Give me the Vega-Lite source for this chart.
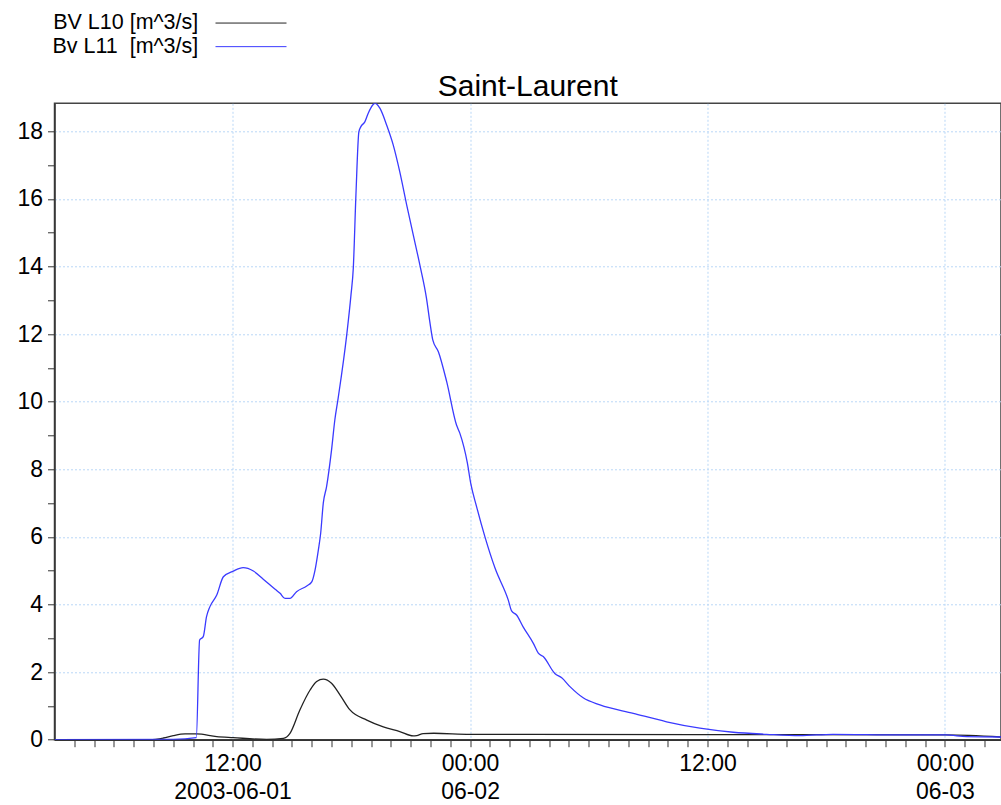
{
  "$schema": "https://vega.github.io/schema/vega-lite/v6.json",
  "width": 946.5,
  "height": 636.4,
  "autosize": {"type": "none"},
  "padding": {"left": 54.5, "top": 103.3, "right": 0, "bottom": 65},
  "background": "white",
  "title": {"text": "Saint-Laurent", "font": "Liberation Sans", "fontSize": 30, "fontWeight": "normal", "color": "#000000", "anchor": "middle", "baseline": "alphabetic", "offset": 8, "dy": 122},
  "config": {
    "view": {"stroke": "#444444", "strokeWidth": 1.5},
    "axis": {
      "title": null,
      "labelFont": "Liberation Sans",
      "labelFontSize": 23,
      "labelColor": "#000000",
      "domainColor": "#333333",
      "domainWidth": 1.5,
      "tickColor": "#333333",
      "tickWidth": 1,
      "gridColor": "#b9d7f7",
      "gridDash": [2, 2],
      "gridWidth": 1,
      "labelOverlap": false,
      "labelFlush": false,
      "labelBound": false
    }
  },
  "data": {"values": [
    {"t": "2003-06-01T03:00", "v": 0, "s": "BV L10 [m^3/s]"},
    {"t": "2003-06-01T07:50", "v": 0, "s": "BV L10 [m^3/s]"},
    {"t": "2003-06-01T08:30", "v": 0.05, "s": "BV L10 [m^3/s]"},
    {"t": "2003-06-01T09:00", "v": 0.12, "s": "BV L10 [m^3/s]"},
    {"t": "2003-06-01T09:36", "v": 0.17, "s": "BV L10 [m^3/s]"},
    {"t": "2003-06-01T10:11", "v": 0.17, "s": "BV L10 [m^3/s]"},
    {"t": "2003-06-01T11:12", "v": 0.09, "s": "BV L10 [m^3/s]"},
    {"t": "2003-06-01T12:02", "v": 0.06, "s": "BV L10 [m^3/s]"},
    {"t": "2003-06-01T13:43", "v": 0.01, "s": "BV L10 [m^3/s]"},
    {"t": "2003-06-01T14:34", "v": 0.04, "s": "BV L10 [m^3/s]"},
    {"t": "2003-06-01T14:54", "v": 0.19, "s": "BV L10 [m^3/s]"},
    {"t": "2003-06-01T15:24", "v": 0.88, "s": "BV L10 [m^3/s]"},
    {"t": "2003-06-01T15:55", "v": 1.47, "s": "BV L10 [m^3/s]"},
    {"t": "2003-06-01T16:15", "v": 1.72, "s": "BV L10 [m^3/s]"},
    {"t": "2003-06-01T16:35", "v": 1.79, "s": "BV L10 [m^3/s]"},
    {"t": "2003-06-01T17:00", "v": 1.67, "s": "BV L10 [m^3/s]"},
    {"t": "2003-06-01T17:26", "v": 1.32, "s": "BV L10 [m^3/s]"},
    {"t": "2003-06-01T17:56", "v": 0.88, "s": "BV L10 [m^3/s]"},
    {"t": "2003-06-01T18:47", "v": 0.58, "s": "BV L10 [m^3/s]"},
    {"t": "2003-06-01T19:37", "v": 0.38, "s": "BV L10 [m^3/s]"},
    {"t": "2003-06-01T20:27", "v": 0.24, "s": "BV L10 [m^3/s]"},
    {"t": "2003-06-01T21:08", "v": 0.11, "s": "BV L10 [m^3/s]"},
    {"t": "2003-06-01T21:18", "v": 0.12, "s": "BV L10 [m^3/s]"},
    {"t": "2003-06-01T21:38", "v": 0.18, "s": "BV L10 [m^3/s]"},
    {"t": "2003-06-01T22:10", "v": 0.19, "s": "BV L10 [m^3/s]"},
    {"t": "2003-06-02T00:00", "v": 0.16, "s": "BV L10 [m^3/s]"},
    {"t": "2003-06-02T11:37", "v": 0.15, "s": "BV L10 [m^3/s]"},
    {"t": "2003-06-03T00:03", "v": 0.14, "s": "BV L10 [m^3/s]"},
    {"t": "2003-06-03T02:50", "v": 0.08, "s": "BV L10 [m^3/s]"},
    {"t": "2003-06-01T03:00", "v": 0, "s": "Bv L11\u00a0 [m^3/s]"},
    {"t": "2003-06-01T09:00", "v": 0.01, "s": "Bv L11\u00a0 [m^3/s]"},
    {"t": "2003-06-01T10:10", "v": 0.06, "s": "Bv L11\u00a0 [m^3/s]"},
    {"t": "2003-06-01T10:20", "v": 2.95, "s": "Bv L11\u00a0 [m^3/s]"},
    {"t": "2003-06-01T10:31", "v": 3.05, "s": "Bv L11\u00a0 [m^3/s]"},
    {"t": "2003-06-01T10:41", "v": 3.64, "s": "Bv L11\u00a0 [m^3/s]"},
    {"t": "2003-06-01T10:51", "v": 3.93, "s": "Bv L11\u00a0 [m^3/s]"},
    {"t": "2003-06-01T11:12", "v": 4.28, "s": "Bv L11\u00a0 [m^3/s]"},
    {"t": "2003-06-01T11:32", "v": 4.82, "s": "Bv L11\u00a0 [m^3/s]"},
    {"t": "2003-06-01T12:02", "v": 4.99, "s": "Bv L11\u00a0 [m^3/s]"},
    {"t": "2003-06-01T12:32", "v": 5.09, "s": "Bv L11\u00a0 [m^3/s]"},
    {"t": "2003-06-01T13:03", "v": 4.99, "s": "Bv L11\u00a0 [m^3/s]"},
    {"t": "2003-06-01T13:33", "v": 4.75, "s": "Bv L11\u00a0 [m^3/s]"},
    {"t": "2003-06-01T14:09", "v": 4.45, "s": "Bv L11\u00a0 [m^3/s]"},
    {"t": "2003-06-01T14:24", "v": 4.33, "s": "Bv L11\u00a0 [m^3/s]"},
    {"t": "2003-06-01T14:39", "v": 4.18, "s": "Bv L11\u00a0 [m^3/s]"},
    {"t": "2003-06-01T14:54", "v": 4.18, "s": "Bv L11\u00a0 [m^3/s]"},
    {"t": "2003-06-01T15:14", "v": 4.38, "s": "Bv L11\u00a0 [m^3/s]"},
    {"t": "2003-06-01T15:45", "v": 4.55, "s": "Bv L11\u00a0 [m^3/s]"},
    {"t": "2003-06-01T16:00", "v": 4.67, "s": "Bv L11\u00a0 [m^3/s]"},
    {"t": "2003-06-01T16:10", "v": 5.02, "s": "Bv L11\u00a0 [m^3/s]"},
    {"t": "2003-06-01T16:20", "v": 5.61, "s": "Bv L11\u00a0 [m^3/s]"},
    {"t": "2003-06-01T16:27", "v": 6.1, "s": "Bv L11\u00a0 [m^3/s]"},
    {"t": "2003-06-01T16:35", "v": 7.0, "s": "Bv L11\u00a0 [m^3/s]"},
    {"t": "2003-06-01T16:45", "v": 7.49, "s": "Bv L11\u00a0 [m^3/s]"},
    {"t": "2003-06-01T17:00", "v": 8.57, "s": "Bv L11\u00a0 [m^3/s]"},
    {"t": "2003-06-01T17:10", "v": 9.46, "s": "Bv L11\u00a0 [m^3/s]"},
    {"t": "2003-06-01T17:20", "v": 10.1, "s": "Bv L11\u00a0 [m^3/s]"},
    {"t": "2003-06-01T17:46", "v": 11.97, "s": "Bv L11\u00a0 [m^3/s]"},
    {"t": "2003-06-01T17:59", "v": 13.16, "s": "Bv L11\u00a0 [m^3/s]"},
    {"t": "2003-06-01T18:06", "v": 13.95, "s": "Bv L11\u00a0 [m^3/s]"},
    {"t": "2003-06-01T18:14", "v": 16.12, "s": "Bv L11\u00a0 [m^3/s]"},
    {"t": "2003-06-01T18:23", "v": 17.99, "s": "Bv L11\u00a0 [m^3/s]"},
    {"t": "2003-06-01T18:29", "v": 18.14, "s": "Bv L11\u00a0 [m^3/s]"},
    {"t": "2003-06-01T18:41", "v": 18.28, "s": "Bv L11\u00a0 [m^3/s]"},
    {"t": "2003-06-01T18:51", "v": 18.53, "s": "Bv L11\u00a0 [m^3/s]"},
    {"t": "2003-06-01T19:05", "v": 18.78, "s": "Bv L11\u00a0 [m^3/s]"},
    {"t": "2003-06-01T19:12", "v": 18.83, "s": "Bv L11\u00a0 [m^3/s]"},
    {"t": "2003-06-01T19:27", "v": 18.68, "s": "Bv L11\u00a0 [m^3/s]"},
    {"t": "2003-06-01T19:47", "v": 18.19, "s": "Bv L11\u00a0 [m^3/s]"},
    {"t": "2003-06-01T20:07", "v": 17.6, "s": "Bv L11\u00a0 [m^3/s]"},
    {"t": "2003-06-01T20:27", "v": 16.8, "s": "Bv L11\u00a0 [m^3/s]"},
    {"t": "2003-06-01T20:48", "v": 15.82, "s": "Bv L11\u00a0 [m^3/s]"},
    {"t": "2003-06-01T21:08", "v": 14.93, "s": "Bv L11\u00a0 [m^3/s]"},
    {"t": "2003-06-01T21:28", "v": 14.04, "s": "Bv L11\u00a0 [m^3/s]"},
    {"t": "2003-06-01T21:48", "v": 13.06, "s": "Bv L11\u00a0 [m^3/s]"},
    {"t": "2003-06-01T21:58", "v": 12.37, "s": "Bv L11\u00a0 [m^3/s]"},
    {"t": "2003-06-01T22:07", "v": 11.83, "s": "Bv L11\u00a0 [m^3/s]"},
    {"t": "2003-06-01T22:24", "v": 11.48, "s": "Bv L11\u00a0 [m^3/s]"},
    {"t": "2003-06-01T22:49", "v": 10.6, "s": "Bv L11\u00a0 [m^3/s]"},
    {"t": "2003-06-01T23:19", "v": 9.31, "s": "Bv L11\u00a0 [m^3/s]"},
    {"t": "2003-06-01T23:29", "v": 9.07, "s": "Bv L11\u00a0 [m^3/s]"},
    {"t": "2003-06-01T23:52", "v": 8.18, "s": "Bv L11\u00a0 [m^3/s]"},
    {"t": "2003-06-02T00:02", "v": 7.59, "s": "Bv L11\u00a0 [m^3/s]"},
    {"t": "2003-06-02T00:20", "v": 6.89, "s": "Bv L11\u00a0 [m^3/s]"},
    {"t": "2003-06-02T00:45", "v": 6.01, "s": "Bv L11\u00a0 [m^3/s]"},
    {"t": "2003-06-02T01:16", "v": 5.07, "s": "Bv L11\u00a0 [m^3/s]"},
    {"t": "2003-06-02T01:56", "v": 4.13, "s": "Bv L11\u00a0 [m^3/s]"},
    {"t": "2003-06-02T02:06", "v": 3.81, "s": "Bv L11\u00a0 [m^3/s]"},
    {"t": "2003-06-02T02:21", "v": 3.69, "s": "Bv L11\u00a0 [m^3/s]"},
    {"t": "2003-06-02T02:41", "v": 3.34, "s": "Bv L11\u00a0 [m^3/s]"},
    {"t": "2003-06-02T03:12", "v": 2.85, "s": "Bv L11\u00a0 [m^3/s]"},
    {"t": "2003-06-02T03:27", "v": 2.56, "s": "Bv L11\u00a0 [m^3/s]"},
    {"t": "2003-06-02T03:42", "v": 2.46, "s": "Bv L11\u00a0 [m^3/s]"},
    {"t": "2003-06-02T04:17", "v": 1.96, "s": "Bv L11\u00a0 [m^3/s]"},
    {"t": "2003-06-02T04:38", "v": 1.83, "s": "Bv L11\u00a0 [m^3/s]"},
    {"t": "2003-06-02T05:03", "v": 1.57, "s": "Bv L11\u00a0 [m^3/s]"},
    {"t": "2003-06-02T05:43", "v": 1.24, "s": "Bv L11\u00a0 [m^3/s]"},
    {"t": "2003-06-02T06:34", "v": 1.03, "s": "Bv L11\u00a0 [m^3/s]"},
    {"t": "2003-06-02T08:15", "v": 0.78, "s": "Bv L11\u00a0 [m^3/s]"},
    {"t": "2003-06-02T09:56", "v": 0.53, "s": "Bv L11\u00a0 [m^3/s]"},
    {"t": "2003-06-02T11:37", "v": 0.34, "s": "Bv L11\u00a0 [m^3/s]"},
    {"t": "2003-06-02T13:18", "v": 0.22, "s": "Bv L11\u00a0 [m^3/s]"},
    {"t": "2003-06-02T14:59", "v": 0.16, "s": "Bv L11\u00a0 [m^3/s]"},
    {"t": "2003-06-02T16:40", "v": 0.12, "s": "Bv L11\u00a0 [m^3/s]"},
    {"t": "2003-06-02T18:20", "v": 0.16, "s": "Bv L11\u00a0 [m^3/s]"},
    {"t": "2003-06-02T21:43", "v": 0.14, "s": "Bv L11\u00a0 [m^3/s]"},
    {"t": "2003-06-03T00:03", "v": 0.14, "s": "Bv L11\u00a0 [m^3/s]"},
    {"t": "2003-06-03T01:06", "v": 0.09, "s": "Bv L11\u00a0 [m^3/s]"},
    {"t": "2003-06-03T02:50", "v": 0.08, "s": "Bv L11\u00a0 [m^3/s]"}
  ]},
  "mark": {"type": "line", "interpolate": "monotone", "strokeWidth": 1.3, "clip": true},
  "encoding": {
    "x": {
      "field": "t",
      "type": "temporal",
      "scale": {"domain": [{"year": 2003, "month": 6, "date": 1, "hours": 3}, {"year": 2003, "month": 6, "date": 3, "hours": 2, "minutes": 50}], "nice": false},
      "axis": {
        "values": [
          {"year": 2003, "month": 6, "date": 1, "hours": 4}, {"year": 2003, "month": 6, "date": 1, "hours": 5}, {"year": 2003, "month": 6, "date": 1, "hours": 6}, {"year": 2003, "month": 6, "date": 1, "hours": 7}, {"year": 2003, "month": 6, "date": 1, "hours": 8}, {"year": 2003, "month": 6, "date": 1, "hours": 9}, {"year": 2003, "month": 6, "date": 1, "hours": 10}, {"year": 2003, "month": 6, "date": 1, "hours": 11}, {"year": 2003, "month": 6, "date": 1, "hours": 12}, {"year": 2003, "month": 6, "date": 1, "hours": 13}, {"year": 2003, "month": 6, "date": 1, "hours": 14}, {"year": 2003, "month": 6, "date": 1, "hours": 15}, {"year": 2003, "month": 6, "date": 1, "hours": 16}, {"year": 2003, "month": 6, "date": 1, "hours": 17}, {"year": 2003, "month": 6, "date": 1, "hours": 18}, {"year": 2003, "month": 6, "date": 1, "hours": 19}, {"year": 2003, "month": 6, "date": 1, "hours": 20}, {"year": 2003, "month": 6, "date": 1, "hours": 21}, {"year": 2003, "month": 6, "date": 1, "hours": 22}, {"year": 2003, "month": 6, "date": 1, "hours": 23},
          {"year": 2003, "month": 6, "date": 2, "hours": 0}, {"year": 2003, "month": 6, "date": 2, "hours": 1}, {"year": 2003, "month": 6, "date": 2, "hours": 2}, {"year": 2003, "month": 6, "date": 2, "hours": 3}, {"year": 2003, "month": 6, "date": 2, "hours": 4}, {"year": 2003, "month": 6, "date": 2, "hours": 5}, {"year": 2003, "month": 6, "date": 2, "hours": 6}, {"year": 2003, "month": 6, "date": 2, "hours": 7}, {"year": 2003, "month": 6, "date": 2, "hours": 8}, {"year": 2003, "month": 6, "date": 2, "hours": 9}, {"year": 2003, "month": 6, "date": 2, "hours": 10}, {"year": 2003, "month": 6, "date": 2, "hours": 11}, {"year": 2003, "month": 6, "date": 2, "hours": 12}, {"year": 2003, "month": 6, "date": 2, "hours": 13}, {"year": 2003, "month": 6, "date": 2, "hours": 14}, {"year": 2003, "month": 6, "date": 2, "hours": 15}, {"year": 2003, "month": 6, "date": 2, "hours": 16}, {"year": 2003, "month": 6, "date": 2, "hours": 17}, {"year": 2003, "month": 6, "date": 2, "hours": 18}, {"year": 2003, "month": 6, "date": 2, "hours": 19}, {"year": 2003, "month": 6, "date": 2, "hours": 20}, {"year": 2003, "month": 6, "date": 2, "hours": 21}, {"year": 2003, "month": 6, "date": 2, "hours": 22}, {"year": 2003, "month": 6, "date": 2, "hours": 23},
          {"year": 2003, "month": 6, "date": 3, "hours": 0}, {"year": 2003, "month": 6, "date": 3, "hours": 1}, {"year": 2003, "month": 6, "date": 3, "hours": 2}
        ],
        "labelExpr": "hours(datum.value) == 12 && date(datum.value) == 1 ? ['12:00', '2003-06-01'] : hours(datum.value) == 12 ? '12:00' : hours(datum.value) == 0 ? ['00:00', timeFormat(datum.value, '%m-%d')] : ''",
        "labelLineHeight": 28,
        "labelPadding": 6,
        "tickSize": 7,
        "gridOpacity": {"condition": {"test": "hours(datum.value) % 12 == 0", "value": 1}, "value": 0}
      }
    },
    "y": {
      "field": "v",
      "type": "quantitative",
      "scale": {"domain": [0, 18.83], "nice": false},
      "axis": {
        "values": [0, 0.5, 1, 1.5, 2, 2.5, 3, 3.5, 4, 4.5, 5, 5.5, 6, 6.5, 7, 7.5, 8, 8.5, 9, 9.5, 10, 10.5, 11, 11.5, 12, 12.5, 13, 13.5, 14, 14.5, 15, 15.5, 16, 16.5, 17, 17.5, 18, 18.5],
        "format": "d",
        "labelExpr": "datum.value % 2 == 0 ? format(datum.value, 'd') : ''",
        "tickSize": 7,
        "labelPadding": 5,
        "gridOpacity": {"condition": {"test": "datum.value % 2 == 0 && datum.value > 0", "value": 1}, "value": 0}
      }
    },
    "color": {
      "field": "s",
      "type": "nominal",
      "scale": {"domain": ["BV L10 [m^3/s]", "Bv L11\u00a0 [m^3/s]"], "range": ["#222222", "#3a3aff"]},
      "legend": {
        "title": null,
        "orient": "none",
        "legendX": 160.5,
        "legendY": -91,
        "symbolType": "M-3.55,0H3.55",
        "symbolSize": 400,
        "symbolStrokeWidth": 1,
        "symbolOffset": 25.25,
        "labelAlign": "right",
        "labelOffset": -63.5,
        "labelFont": "Liberation Sans",
        "labelFontSize": 21.5,
        "labelColor": "#000000",
        "labelLimit": 0,
        "padding": 0,
        "rowPadding": 0.6
      }
    }
  }
}
